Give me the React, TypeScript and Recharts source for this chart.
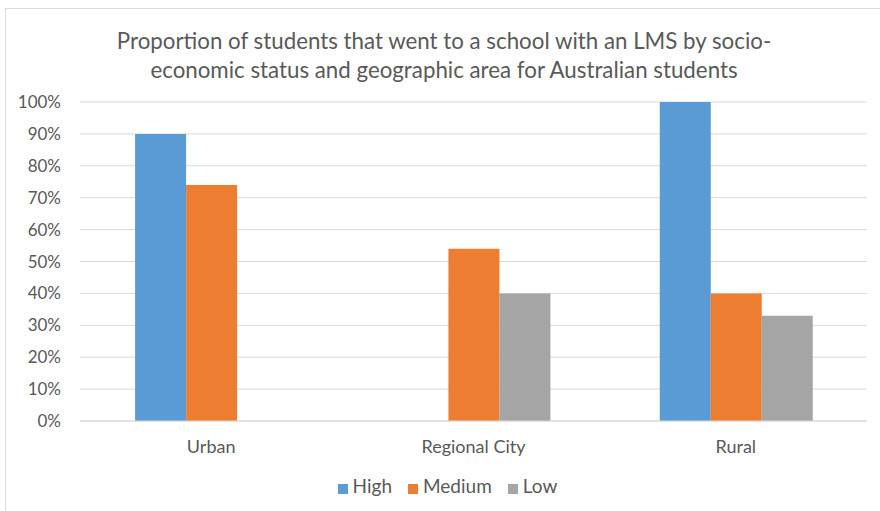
import { Bar, BarChart, CartesianGrid, Legend, XAxis, YAxis } from 'recharts';

const areas = ['Urban', 'Regional City', 'Rural'];
const high = [90, 0, 100];
const medium = [74, 54, 40];
const low = [0, 40, 33];
const seriesNames = ['High', 'Medium', 'Low'];
const yTicks = [0, 10, 20, 30, 40, 50, 60, 70, 80, 90, 100];

const FONT = 'Lato, "Open Sans", sans-serif';
const TEXT = '#595959';

const rows = areas.map((area, i) => ({
  area,
  High: high[i],
  Medium: medium[i],
  Low: low[i]
}));

export default function App() {
  return (
    <div
      style={{
        position: 'absolute',
        left: 0,
        top: 0,
        width: 880,
        height: 511,
        background: '#fff',
        fontFamily: FONT
      }}
    >
      <div
        style={{
          position: 'absolute',
          left: 5,
          top: 8,
          width: 880,
          height: 511,
          borderLeft: '1px solid #dcdcdc',
          borderTop: '1px solid #dcdcdc'
        }}
      />
      <div
        style={{
          position: 'absolute',
          left: 4,
          top: 26,
          width: 880,
          textAlign: 'center',
          fontSize: 22.3,
          lineHeight: '29px',
          color: TEXT
        }}
      >
        Proportion of students that went to a school with an LMS by socio-
        <br />
        economic status and geographic area for Australian students
      </div>
      <BarChart
        width={880}
        height={511}
        data={rows}
        margin={{ top: 102, right: 13, bottom: 9, left: 0 }}
        barCategoryGap="21%"
        barGap={0}
        style={{ position: 'absolute', left: 0, top: 0 }}
      >
        <CartesianGrid vertical={false} stroke="#d9d9d9" />
        <XAxis
          dataKey="area"
          height={53}
          axisLine={{ stroke: '#d9d9d9' }}
          tickLine={false}
          tickMargin={13}
          tick={{ fill: TEXT, fontSize: 18, fontFamily: FONT }}
        />
        <YAxis
          width={80}
          domain={[0, 100]}
          ticks={yTicks}
          interval={0}
          axisLine={false}
          tickLine={false}
          tickMargin={13}
          tickFormatter={(v) => `${v}%`}
          tick={{ fill: TEXT, fontSize: 17, fontFamily: FONT }}
        />
        <Legend
          verticalAlign="bottom"
          iconType="square"
          iconSize={10}
          height={28}
          wrapperStyle={{ left: 22 }}
          itemSorter={(item) => seriesNames.indexOf(String(item.value))}
          formatter={(value) => (
            <span style={{ color: TEXT, fontSize: 19, fontFamily: FONT, marginLeft: 1, marginRight: 6 }}>{value}</span>
          )}
        />
        <Bar dataKey="High" fill="#5B9BD5" isAnimationActive={false} />
        <Bar dataKey="Medium" fill="#ED7D31" isAnimationActive={false} />
        <Bar dataKey="Low" fill="#A5A5A5" isAnimationActive={false} />
      </BarChart>
    </div>
  );
}
